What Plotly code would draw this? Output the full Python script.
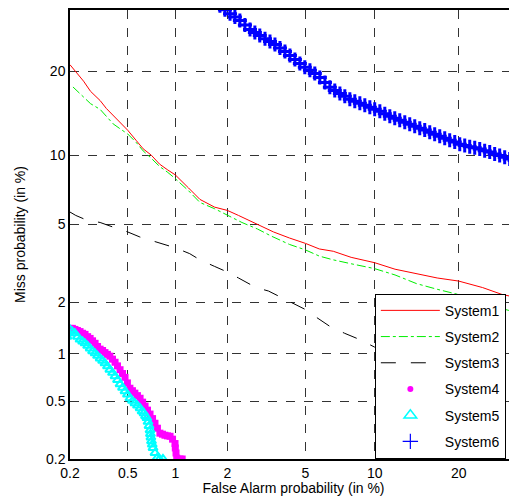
import plotly.graph_objects as go
from statistics import NormalDist

nd = NormalDist()
def probit(vals):
    return [nd.inv_cdf(v / 100.0) for v in vals]

tick_vals = [0.2, 0.5, 1, 2, 5, 10, 20]
tick_text = ["0.2", "0.5", "1", "2", "5", "10", "20"]

sys1_fa = [0.2, 0.22, 0.25, 0.28, 0.326, 0.36, 0.40, 0.45, 0.5, 0.57, 0.63, 0.71, 0.8, 0.9, 1.0, 1.2, 1.4, 1.7, 2.0, 2.3, 2.64, 3.0, 3.5, 4.2, 5.0, 5.8, 6.7, 8.0, 10, 12, 14.4, 17, 20, 23.7, 27, 29.6]
sys1_miss = [21.0, 20.0, 18.6, 17.2, 16.0, 15.0, 14.2, 13.3, 12.5, 11.4, 10.6, 10.0, 9.2, 8.7, 8.3, 7.3, 6.5, 6.0, 5.8, 5.5, 5.2, 4.9, 4.6, 4.3, 4.05, 3.8, 3.7, 3.45, 3.24, 3.0, 2.85, 2.7, 2.6, 2.4, 2.2, 2.12]

sys2_fa = [0.21, 0.24, 0.28, 0.326, 0.36, 0.40, 0.45, 0.5, 0.57, 0.63, 0.70, 0.8, 0.9, 1.0, 1.2, 1.4, 1.7, 2.0, 2.4, 2.9, 3.4, 4.2, 5.0, 5.8, 6.7, 8.0, 10, 12, 14.4, 17, 20, 24, 29.6]
sys2_miss = [17.8, 16.8, 15.6, 14.9, 14.0, 13.2, 12.6, 12.1, 11.2, 10.4, 9.8, 9.0, 8.5, 8.0, 7.1, 6.3, 5.9, 5.5, 5.1, 4.75, 4.4, 4.0, 3.76, 3.5, 3.35, 3.2, 3.02, 2.8, 2.52, 2.35, 2.2, 1.95, 1.75]

sys3_fa = [0.2, 0.22, 0.26, 0.326, 0.4, 0.5, 0.6, 0.7, 0.85, 1.0, 1.22, 1.4, 1.7, 2.0, 2.3, 2.64, 2.85, 3.3, 3.76, 4.2, 5.0, 5.6, 6.46, 7.5, 8.7, 10, 12, 15, 20, 29.6]
sys3_miss = [5.7, 5.5, 5.25, 5.1, 4.85, 4.6, 4.35, 4.2, 4.0, 3.85, 3.6, 3.35, 3.1, 2.9, 2.7, 2.5, 2.4, 2.3, 2.14, 2.0, 1.82, 1.65, 1.46, 1.33, 1.22, 1.1, 1.0, 0.9, 0.75, 0.6]

sys4_fa = [0.200, 0.208, 0.217, 0.226, 0.236, 0.246, 0.256, 0.267, 0.278, 0.289, 0.301, 0.313, 0.326, 0.339, 0.352, 0.366, 0.380, 0.396, 0.412, 0.428, 0.445, 0.462, 0.480, 0.498, 0.517, 0.537, 0.557, 0.579, 0.602, 0.625, 0.648, 0.672, 0.697, 0.723, 0.749, 0.776, 0.804, 0.834, 0.864, 0.896, 0.929, 0.962, 0.996, 1.00, 1.01, 1.02, 1.067, 1.10]
sys4_miss = [1.42, 1.42, 1.40, 1.38, 1.36, 1.33, 1.31, 1.27, 1.24, 1.20, 1.16, 1.11, 1.07, 1.05, 1.02, 0.995, 0.97, 0.93, 0.89, 0.845, 0.80, 0.757, 0.716, 0.66, 0.61, 0.588, 0.567, 0.546, 0.525, 0.495, 0.466, 0.438, 0.412, 0.384, 0.357, 0.330, 0.305, 0.30, 0.295, 0.292, 0.29, 0.277, 0.258, 0.24, 0.221, 0.203, 0.20, 0.20]

sys5_fa = [0.190, 0.195, 0.200, 0.208, 0.217, 0.226, 0.236, 0.246, 0.256, 0.267, 0.278, 0.289, 0.301, 0.313, 0.326, 0.339, 0.352, 0.366, 0.380, 0.396, 0.412, 0.428, 0.445, 0.462, 0.480, 0.498, 0.517, 0.537, 0.557, 0.579, 0.602, 0.620, 0.637, 0.652, 0.666, 0.677, 0.687, 0.697, 0.701, 0.706, 0.712, 0.720, 0.728, 0.749, 0.770, 0.800, 0.840]
sys5_miss = [1.27, 1.33, 1.40, 1.36, 1.33, 1.27, 1.22, 1.19, 1.16, 1.12, 1.08, 1.04, 1.01, 0.975, 0.94, 0.91, 0.877, 0.84, 0.80, 0.765, 0.728, 0.69, 0.648, 0.615, 0.584, 0.555, 0.525, 0.505, 0.487, 0.47, 0.451, 0.43, 0.418, 0.40, 0.387, 0.365, 0.342, 0.32, 0.301, 0.285, 0.268, 0.254, 0.240, 0.221, 0.203, 0.20, 0.20]

sys6_fa = [1.82, 1.94, 2.07, 2.20, 2.34, 2.49, 2.65, 2.81, 2.98, 3.17, 3.36, 3.56, 3.77, 3.99, 4.22, 4.46, 4.71, 4.97, 5.25, 5.53, 5.83, 6.15, 6.47, 6.80, 7.16, 7.52, 7.90, 8.29, 8.70, 9.12, 9.56, 10.0, 10.48, 10.96, 11.46, 11.97, 12.50, 13.05, 13.61, 14.19, 14.79, 15.40, 16.03, 16.67, 17.34, 18.02, 18.71, 19.43, 20.16, 20.90, 21.66, 22.44, 23.23, 24.03, 24.86, 25.69, 26.54, 27.41, 28.29, 29.18, 30.09]
sys6_miss = [30.99, 30.26, 29.52, 28.91, 28.30, 27.49, 26.73, 26.21, 25.69, 25.17, 24.69, 24.20, 23.64, 23.06, 22.42, 21.80, 21.21, 20.61, 20.16, 19.71, 19.13, 18.43, 17.75, 17.33, 16.93, 16.55, 16.16, 15.91, 15.65, 15.41, 15.15, 14.92, 14.67, 14.37, 14.07, 13.85, 13.61, 13.39, 13.15, 12.94, 12.71, 12.51, 12.28, 12.08, 11.86, 11.66, 11.45, 11.26, 11.05, 10.92, 10.80, 10.71, 10.57, 10.42, 10.30, 10.10, 9.96, 9.82, 9.65, 9.51, 9.38]

fig = go.Figure()
fig.add_trace(go.Scatter(x=probit(sys1_fa), y=probit(sys1_miss), mode="lines", name="System1",
                         legendgroup="g1", line=dict(color="#ff0000", width=1)))
fig.add_trace(go.Scatter(x=probit(sys2_fa), y=probit(sys2_miss), mode="lines", name="System2",
                         legendgroup="g2", line=dict(color="#00ee00", width=1, dash="dashdot")))
fig.add_trace(go.Scatter(x=probit(sys3_fa), y=probit(sys3_miss), mode="lines", name="System3",
                         legendgroup="g3", line=dict(color="#000000", width=1, dash="longdash")))
fig.add_trace(go.Scatter(x=probit(sys4_fa), y=probit(sys4_miss), mode="markers", name="System4",
                         legendgroup="g4", showlegend=False,
                         marker=dict(color="#ff00ff", size=7, symbol="square")))
fig.add_trace(go.Scatter(x=probit(sys5_fa), y=probit(sys5_miss), mode="markers", name="System5",
                         legendgroup="g5", showlegend=False,
                         marker=dict(color="#00ffff", size=8, symbol="triangle-up-open",
                                     line=dict(color="#00f0f0", width=2))))
fig.add_trace(go.Scatter(x=probit(sys6_fa), y=probit(sys6_miss), mode="markers", name="System6",
                         legendgroup="g6", showlegend=False,
                         marker=dict(color="#0000ff", size=10, symbol="cross-thin",
                                     line=dict(color="#0000ff", width=3))))
# legend entries (symbols as shown in the reference legend)
fig.add_trace(go.Scatter(x=[None], y=[None], mode="markers", name="System4", legendgroup="g4",
                         marker=dict(color="#ff00ff", size=6, symbol="circle")))
fig.add_trace(go.Scatter(x=[None], y=[None], mode="markers", name="System5", legendgroup="g5",
                         marker=dict(color="#00ffff", size=11, symbol="triangle-up-open",
                                     line=dict(color="#00e8e8", width=1.5))))
fig.add_trace(go.Scatter(x=[None], y=[None], mode="markers", name="System6", legendgroup="g6",
                         marker=dict(color="#0000ff", size=11, symbol="cross-thin",
                                     line=dict(color="#0000ff", width=1.2))))

font_family = "Liberation Sans, Arial, sans-serif"
axis_common = dict(
    tickvals=probit(tick_vals), ticktext=tick_text,
    showgrid=True, gridcolor="#333333", griddash="dash", gridwidth=1,
    showline=True, linecolor="black", linewidth=1.5,
    zeroline=False, ticks="",
    tickfont=dict(size=14, color="black", family=font_family),
)
fig.update_xaxes(range=probit([0.2, 29.6]), mirror=True,
                 title=dict(text="False Alarm probability (in %)", font=dict(size=14, color="black", family=font_family), standoff=4),
                 **axis_common)
fig.update_yaxes(range=probit([0.2, 30.2]),
                 title=dict(text="Miss probability (in %)", font=dict(size=14, color="black", family=font_family), standoff=17),
                 **axis_common)

fig.update_layout(
    width=509, height=488,
    margin=dict(l=62, r=0, t=0, b=37),
    plot_bgcolor="white", paper_bgcolor="white",
    font=dict(family=font_family, color="black"),
    showlegend=True,
    legend=dict(x=0.682, y=0.368, xanchor="left", yanchor="top",
                bgcolor="white", bordercolor="black", borderwidth=1,
                font=dict(size=14, family=font_family, color="black"),
                tracegroupgap=5, traceorder="grouped", itemwidth=59),
)

fig.write_html("out.html")
